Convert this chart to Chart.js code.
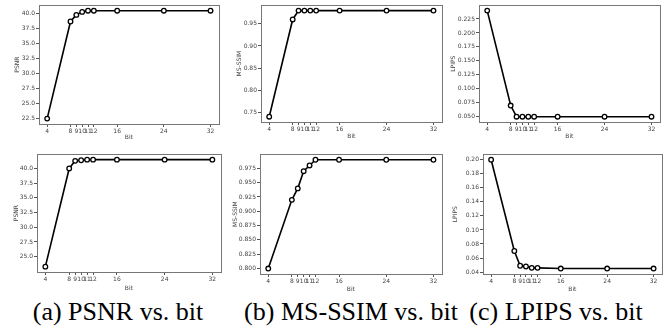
<!DOCTYPE html>
<html>
<head>
<meta charset="utf-8">
<script src="https://cdn.jsdelivr.net/npm/chart.js@4"></script>
<style>
  body { margin: 0; background: #fff; width: 670px; height: 331px; position: relative; overflow: hidden; }
  canvas { position: absolute; }
  .cap { position: absolute; top: 297px; font-family: "Liberation Serif", "Times New Roman", serif; font-size: 26px; color: #000; white-space: nowrap; transform: translateX(-50%); }
</style>
</head>
<body>
<canvas id="c1"></canvas>
<canvas id="c2"></canvas>
<canvas id="c3"></canvas>
<canvas id="c4"></canvas>
<canvas id="c5"></canvas>
<canvas id="c6"></canvas>
<div class="cap" style="left:118px">(a) PSNR vs. bit</div>
<div class="cap" style="left:351px">(b) MS-SSIM vs. bit</div>
<div class="cap" style="left:556px">(c) LPIPS vs. bit</div>
<script>
// x values shared by every panel
const bits = [4, 8, 9, 10, 11, 12, 16, 24, 32];

// top row
const psnrTop = [22.4, 38.6, 39.7, 40.2, 40.4, 40.4, 40.4, 40.4, 40.4];
const msssimTop = [0.74, 0.96, 0.98, 0.98, 0.98, 0.98, 0.98, 0.98, 0.98];
const lpipsTop = [0.24, 0.07, 0.05, 0.05, 0.05, 0.05, 0.05, 0.05, 0.05];

// bottom row
const psnrBottom = [23.3, 40.0, 41.3, 41.4, 41.5, 41.5, 41.5, 41.5, 41.5];
const msssimBottom = [0.80, 0.92, 0.94, 0.97, 0.98, 0.99, 0.99, 0.99, 0.99];
const lpipsBottom = [0.20, 0.07, 0.049, 0.048, 0.046, 0.046, 0.045, 0.045, 0.045];

// y tick labels
const psnrTopTicks = [22.5, 25.0, 27.5, 30.0, 32.5, 35.0, 37.5, 40.0];
const msssimTopTicks = [0.75, 0.80, 0.85, 0.90, 0.95];
const lpipsTopTicks = [0.050, 0.075, 0.100, 0.125, 0.150, 0.175, 0.200, 0.225];
const psnrBottomTicks = [25.0, 27.5, 30.0, 32.5, 35.0, 37.5, 40.0];
const msssimBottomTicks = [0.800, 0.825, 0.850, 0.875, 0.900, 0.925, 0.950, 0.975];
const lpipsBottomTicks = [0.04, 0.06, 0.08, 0.10, 0.12, 0.14, 0.16, 0.18, 0.20];

const tickFont = { family: 'DejaVu Sans', size: 6 };
const tickColor = '#444';

// draws the box around the plot area
const framePlugin = {
    id: 'frame',
    afterDraw(chart) {
        const a = chart.chartArea;
        const ctx = chart.ctx;
        ctx.save();
        ctx.strokeStyle = '#777';
        ctx.lineWidth = 1;
        ctx.strokeRect(Math.round(a.left) + 0.5, Math.round(a.top) + 0.5,
            Math.round(a.right - a.left), Math.round(a.bottom - a.top));
        ctx.restore();
    }
};

function withMargin(arr, side) {
    const lo = Math.min(...arr), hi = Math.max(...arr);
    const m = (hi - lo) * 0.05;
    return side === 'min' ? lo - m : hi + m;
}

function makeChart(id, box, values, yTicks, decimals, yLabel) {
    const cv = document.getElementById(id);
    const left = box.titleX - 6;
    const top = box.T - 5;
    const w = box.R + 5 - left;
    const h = box.titleY + 6 - top;
    cv.style.left = left + 'px';
    cv.style.top = top + 'px';
    cv.width = w;
    cv.height = h;
    cv.style.width = w + 'px';
    cv.style.height = h + 'px';
    const yW = box.L - left;
    const xH = box.titleY + 6 - box.B;

    new Chart(cv, {
        type: 'line',
        data: {
            datasets: [{
                data: bits.map((b, i) => ({ x: b, y: values[i] })),
                borderColor: '#000',
                borderWidth: 1.6,
                pointRadius: 2.3,
                pointBorderWidth: 1.3,
                pointBackgroundColor: '#fff',
                pointBorderColor: '#000',
                tension: 0,
                clip: false
            }]
        },
        options: {
            responsive: false,
            animation: false,
            layout: { padding: { top: 5, right: 5, left: 0, bottom: 0 } },
            plugins: { legend: { display: false }, tooltip: { enabled: false } },
            scales: {
                x: {
                    type: 'linear',
                    min: withMargin(bits, 'min'),
                    max: withMargin(bits, 'max'),
                    afterBuildTicks: s => { s.ticks = bits.map(v => ({ value: v })); },
                    afterFit: s => { s.height = xH; },
                    ticks: { autoSkip: false, maxRotation: 0, padding: 1, font: tickFont, color: tickColor,
                        callback: v => String(v) },
                    grid: { drawOnChartArea: false, drawTicks: true, tickLength: 3, color: '#555' },
                    border: { display: false },
                    title: { display: true, text: 'Bit', font: tickFont, color: tickColor, padding: { top: 0, bottom: 2 } }
                },
                y: {
                    type: 'linear',
                    min: withMargin(values, 'min'),
                    max: withMargin(values, 'max'),
                    afterBuildTicks: s => { s.ticks = yTicks.map(v => ({ value: v })); },
                    afterFit: s => { s.width = yW; },
                    ticks: { padding: 1, font: tickFont, color: tickColor,
                        callback: v => Number(v).toFixed(decimals) },
                    grid: { drawOnChartArea: false, drawTicks: true, tickLength: 3, color: '#555' },
                    border: { display: false },
                    title: { display: true, text: yLabel, font: tickFont, color: tickColor, padding: { top: 2, bottom: 0 } }
                }
            }
        },
        plugins: [framePlugin]
    });
}

makeChart('c1', { L: 39, R: 219, T: 5, B: 124, titleX: 18, titleY: 137 }, psnrTop, psnrTopTicks, 1, 'PSNR');
makeChart('c2', { L: 261, R: 442, T: 5, B: 122, titleX: 240, titleY: 136 }, msssimTop, msssimTopTicks, 2, 'MS-SSIM');
makeChart('c3', { L: 479, R: 660, T: 5, B: 122, titleX: 454, titleY: 136 }, lpipsTop, lpipsTopTicks, 3, 'LPIPS');
makeChart('c4', { L: 37, R: 221, T: 154, B: 272, titleX: 17, titleY: 288 }, psnrBottom, psnrBottomTicks, 1, 'PSNR');
makeChart('c5', { L: 260, R: 442, T: 154, B: 274, titleX: 236, titleY: 289 }, msssimBottom, msssimBottomTicks, 3, 'MS-SSIM');
makeChart('c6', { L: 483, R: 662, T: 154, B: 274, titleX: 456, titleY: 289 }, lpipsBottom, lpipsBottomTicks, 2, 'LPIPS');
</script>
</body>
</html>
